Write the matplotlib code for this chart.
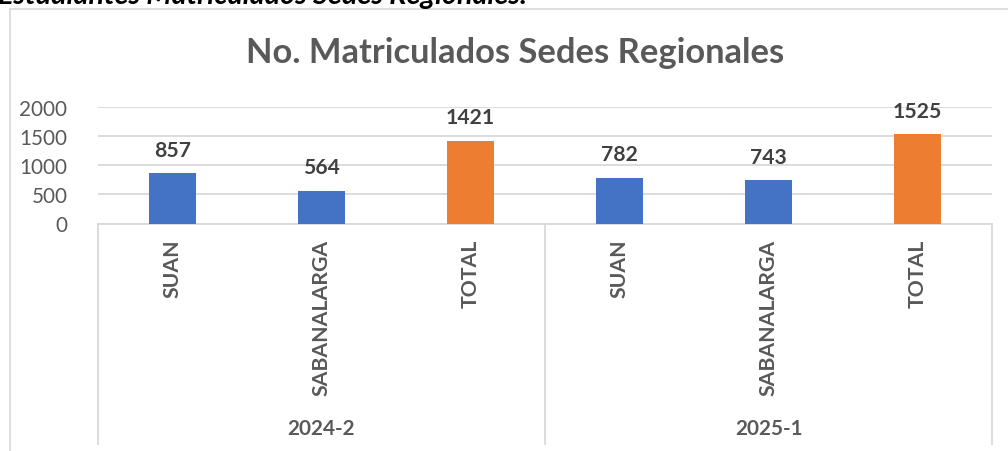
import matplotlib
matplotlib.use("Agg")
import matplotlib.pyplot as plt
import matplotlib.transforms as mtransforms
from matplotlib.patches import Rectangle
from matplotlib import font_manager as fm

categories = ["SUAN", "SABANALARGA", "TOTAL", "SUAN", "SABANALARGA", "TOTAL"]
values = [857, 564, 1421, 782, 743, 1525]
groups = ["2024-2", "2025-1"]
yticks = [0, 500, 1000, 1500, 2000]
title = "No. Matriculados Sedes Regionales"
caption = "Estudiantes Matriculados Sedes Regionales."

BLUE = "#4472C4"
ORANGE = "#ED7D31"
GRID = "#D9D9D9"
TXT = "#595959"
LBL = "#404040"


def weight_num(w):
    if isinstance(w, int):
        return w
    return {"bold": 700, "normal": 400, "regular": 400, "book": 400}.get(str(w).lower(), 400)


def find_font(families, bold, italic):
    for fam in families:
        for f in fm.fontManager.ttflist:
            if f.name != fam:
                continue
            if (f.style in ("italic", "oblique")) != italic:
                continue
            w = weight_num(f.weight)
            if bold and 650 <= w <= 750:
                return f.fname
            if not bold and 380 <= w <= 420:
                return f.fname
    return None


reg_path = find_font(["Lato", "Open Sans", "Noto Sans"], False, False)
bold_path = find_font(["Lato", "Open Sans", "Noto Sans", "Liberation Sans"], True, False)
bi_path = find_font(["Lato", "Open Sans", "Noto Sans", "Liberation Sans"], True, True)


def fp(size, path, bold=False, italic=False):
    if path:
        return fm.FontProperties(fname=path, size=size)
    return fm.FontProperties(family=["DejaVu Sans"], size=size,
                             weight="bold" if bold else "normal",
                             style="italic" if italic else "normal")


W, H = 1008, 452
fig = plt.figure(figsize=(W / 100, H / 100), dpi=100)
renderer = fig.canvas.get_renderer()


def fit(size, path, text, target, bold=False, italic=False):
    t = fig.text(0, 0, text, fontproperties=fp(size, path, bold, italic))
    bb = t.get_window_extent(renderer)
    t.remove()
    return size * target / bb.width if bb.width > 0 else size


def fx(px):
    return px / W


def fy(py):
    return 1 - py / H


# sizes fitted to the reference's measured text widths
s_tick = fit(15, reg_path, "2000", 48)
s_lab = fit(15, bold_path, "857", 37, bold=True)
s_cat = fit(15, bold_path, "SABANALARGA", 156, bold=True)
s_grp = fit(15, bold_path, "2024-2", 68, bold=True)
s_title = fit(20, bold_path, title, 539, bold=True)
s_cap = fit(20, bi_path, caption, 530, bold=True, italic=True)

# chart border
fig.patches.append(Rectangle((fx(10), fy(460)), fx(1015) - fx(10), fy(10) - fy(460),
                             transform=fig.transFigure, fill=False, edgecolor=GRID, lw=1.2))

ax_left, ax_right, ax_top, ax_bot = 98, 992, 107.7, 224.5
ax = fig.add_axes([fx(ax_left), fy(ax_bot), fx(ax_right - ax_left), (ax_bot - ax_top) / H])

colors = [ORANGE if c == "TOTAL" else BLUE for c in categories]
x = list(range(len(categories)))
ax.bar(x, values, width=0.31, color=colors, zorder=3)

ax.set_xlim(-0.5, len(categories) - 0.5)
ax.set_ylim(0, 2000)
ax.set_yticks(yticks)
ax.set_yticklabels([str(v) for v in yticks], fontproperties=fp(s_tick, reg_path), color=TXT)
ax.yaxis.grid(True, color=GRID, lw=1.3, zorder=0)
ax.tick_params(axis="y", length=0, pad=22)
for s in ["left", "right", "top"]:
    ax.spines[s].set_visible(False)
ax.spines["bottom"].set_color(GRID)
ax.spines["bottom"].set_linewidth(1.3)

ax.set_xticks(x)
ax.set_xticklabels(categories, rotation=90, fontproperties=fp(s_cat, bold_path, True), color=TXT)
ax.tick_params(axis="x", length=0, pad=11)

for xi, v in zip(x, values):
    ax.annotate(str(v), (xi, v), xytext=(0, 12.5), textcoords="offset points",
                ha="center", va="baseline", fontproperties=fp(s_lab, bold_path, True), color=LBL)

# group separators
axh = ax_bot - ax_top
sep_bottom = -(445 - ax_bot) / axh
trans = mtransforms.blended_transform_factory(ax.transData, ax.transAxes)
n_per = len(categories) // len(groups)
for k in range(len(groups) + 1):
    xs = -0.5 + k * n_per
    ax.plot([xs, xs], [0, sep_bottom], transform=trans, color=GRID, lw=1.3, clip_on=False)
for k, g in enumerate(groups):
    xc = -0.5 + k * n_per + n_per / 2
    ax.text(xc, -(429 - ax_bot) / axh, g, transform=trans, ha="center", va="center",
            fontproperties=fp(s_grp, bold_path, True), color=TXT)

fig.text(fx(515.5), fy(63), title, ha="center", va="baseline",
         fontproperties=fp(s_title, bold_path, True), color=TXT)
fig.text(fx(-2), fy(4), caption, ha="left", va="baseline",
         fontproperties=fp(s_cap, bi_path, True, True), color="black")

fig.savefig("out.png", dpi=100)
